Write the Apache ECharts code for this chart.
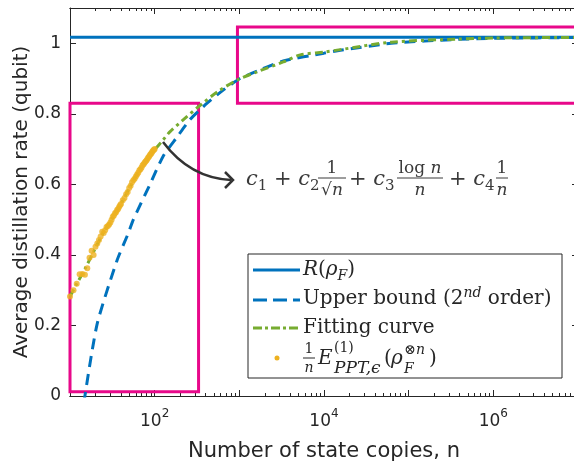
<!DOCTYPE html>
<html>
<head>
<meta charset="utf-8">
<script src="https://cdn.jsdelivr.net/npm/echarts@6/dist/echarts.min.js"></script>
<style>
  html, body { margin: 0; padding: 0; background: #fff; }
  #chart { width: 574px; height: 461px; }
</style>
</head>
<body>
<div id="chart"></div>
<script>
// R(rho_F), constant
const rateN = [10, 1e7];
const rateY = [1.017, 1.017];

// upper bound, 2nd order
const boundN = [13, 15, 21, 36, 48.5, 56, 88, 126, 185, 260, 416, 650, 1020, 1780, 3300, 10000, 15600, 62000, 380000, 1e6, 1e7];
const boundY = [-0.12, 0.0, 0.206, 0.385, 0.46, 0.50, 0.60, 0.68, 0.735, 0.783, 0.83, 0.868, 0.90, 0.925, 0.95, 0.972, 0.98, 1.0, 1.011, 1.014, 1.0163];

// fitting curve
const fitN = [10, 12, 15, 20, 25, 30, 40, 50, 60, 70, 80, 100, 126, 150, 217, 348, 550, 946, 1620, 3300, 5250, 10000, 15600, 62000, 380000, 1e6, 1e7];
const fitY = [0.282, 0.318, 0.36, 0.42, 0.465, 0.495, 0.545, 0.588, 0.622, 0.648, 0.668, 0.698, 0.726, 0.748, 0.783, 0.825, 0.862, 0.896, 0.919, 0.947, 0.967, 0.975, 0.982, 1.003, 1.012, 1.015, 1.0165];

// (1/n) E_PPT values
const dotN = [10, 11, 12, 13, 14, 15, 16, 17, 18, 19, 20, 21, 22, 23, 24, 25, 26, 27, 28, 29, 30, 31, 32, 33, 34, 35, 36, 37, 38, 39, 40,
  42, 44, 46, 48, 50, 52, 54, 56, 58, 60, 62, 64, 66, 68, 70, 72, 74, 76, 78, 80, 82, 84, 86, 88, 90, 92, 94, 96, 98, 100];
const dotY = [0.282, 0.300, 0.318, 0.345, 0.346, 0.344, 0.362, 0.392, 0.412, 0.400, 0.423, 0.432, 0.442, 0.452, 0.466, 0.462, 0.470, 0.479, 0.482, 0.486, 0.492, 0.500, 0.508, 0.512, 0.518, 0.521, 0.527, 0.530, 0.536, 0.541, 0.544,
  0.555, 0.561, 0.572, 0.578, 0.590, 0.596, 0.606, 0.612, 0.616, 0.622, 0.628, 0.633, 0.640, 0.643, 0.648, 0.654, 0.657, 0.661, 0.665, 0.668, 0.672, 0.676, 0.679, 0.683, 0.686, 0.689, 0.693, 0.696, 0.698, 0.700];

// zoom boxes [nFrom, yFrom, nTo, yTo]
const boxes = [[10, 0.012, 330, 0.83], [950, 0.83, 1e7, 1.046]];

const yTicks = [0, 0.2, 0.4, 0.6, 0.8, 1];
const xMajor = [10, 100, 1e3, 1e4, 1e5, 1e6, 1e7];
const xLabels = [100, 1e4, 1e6];
const xMinor = [];
for (let k = 1; k < 7; k++) for (let m = 2; m < 10; m++) xMinor.push(m * Math.pow(10, k));

const pair = (xs, ys) => xs.map((x, i) => [x, ys[i]]);

const INK = '#262626';
const SANS = 'DejaVu Sans';
const SERIF = 'DejaVu Serif';
const BLUE = '#0072BD', GREEN = '#77AC30', GOLD = '#EDB120', PINK = '#E8088A';

function xAxisOf(position, ticks, len, labels) {
  return {
    type: 'log', logBase: 10, min: 10, max: 1e7, position: position,
    axisLine: { show: true, lineStyle: { color: INK, width: 1 } },
    axisTick: { show: true, inside: true, length: len, customValues: ticks, lineStyle: { color: INK } },
    minorTick: { show: false },
    splitLine: { show: false },
    axisLabel: labels ? {
      customValues: xLabels, margin: 12, color: INK,
      formatter: v => '{b|10}{s|' + Math.round(Math.log10(v)) + '}',
      rich: {
        b: { fontSize: 17, fontFamily: SANS, color: INK, lineHeight: 22, verticalAlign: 'bottom' },
        s: { fontSize: 12, fontFamily: SANS, color: INK, lineHeight: 12, verticalAlign: 'top' }
      }
    } : { show: false }
  };
}

function yAxisOf(position, labels) {
  return {
    type: 'value', min: 0, max: 1.1, position: position,
    axisLine: { show: true, lineStyle: { color: INK, width: 1 } },
    axisTick: { show: true, inside: true, length: 6, customValues: yTicks, lineStyle: { color: INK } },
    splitLine: { show: false },
    axisLabel: labels ? { customValues: yTicks, margin: 9, color: INK, fontSize: 17, fontFamily: SANS } : { show: false }
  };
}

// little text helper for the math pieces
function txt(x, y, text, size, opts) {
  opts = opts || {};
  return {
    type: 'text', x: x, y: y, z: 20,
    style: {
      text: text, fontSize: size, fontFamily: SERIF, fontStyle: opts.italic ? 'italic' : 'normal',
      fill: opts.color || INK, align: opts.align || 'left', verticalAlign: 'middle', rich: opts.rich
    }
  };
}
const mathRich = (size, color) => {
  const small = Math.round(size * 0.7);
  return {
    n: { fontSize: size, fontFamily: SERIF, lineHeight: size + 6, verticalAlign: 'middle', fill: color },
    i: { fontSize: size, fontFamily: SERIF, fontStyle: 'italic', lineHeight: size + 6, verticalAlign: 'middle', fill: color },
    s: { fontSize: small, fontFamily: SERIF, fontStyle: 'italic', lineHeight: small, verticalAlign: 'bottom', fill: color },
    sn: { fontSize: small, fontFamily: SERIF, lineHeight: small, verticalAlign: 'bottom', fill: color },
    u: { fontSize: small, fontFamily: SERIF, fontStyle: 'italic', lineHeight: small, verticalAlign: 'top', fill: color }
  };
};
const hline = (x1, x2, y, w, color) => ({ type: 'line', z: 20, shape: { x1: x1, y1: y, x2: x2, y2: y }, style: { stroke: color || INK, lineWidth: w || 1 } });

const FC = '#3a3a3a';
const fr = mathRich(21, FC);
const fq = mathRich(17, FC);
const lr = mathRich(20, INK);

const graphic = [
  // legend box
  { type: 'rect', z: 15, shape: { x: 248, y: 254, width: 314, height: 124 }, style: { fill: '#fff', stroke: INK, lineWidth: 1 } },
  { type: 'line', z: 20, shape: { x1: 253, y1: 270, x2: 300, y2: 270 }, style: { stroke: BLUE, lineWidth: 3 } },
  { type: 'line', z: 20, shape: { x1: 253, y1: 300, x2: 300, y2: 300 }, style: { stroke: BLUE, lineWidth: 3, lineDash: [14, 6] } },
  { type: 'line', z: 20, shape: { x1: 253, y1: 328, x2: 300, y2: 328 }, style: { stroke: GREEN, lineWidth: 3, lineDash: [9, 3, 3, 3] } },
  { type: 'circle', z: 20, shape: { cx: 277, cy: 358, r: 2.5 }, style: { fill: GOLD } },
  txt(303, 270, '{i|R}{n|(}{i|ρ}{s|F}{n|)}', 20, { rich: lr }),
  txt(303, 299, '{n|Upper bound (2}{u|nd}{n| order)}', 20, { rich: lr }),
  txt(303, 328, 'Fitting curve', 20),
  txt(309, 349, '1', 14, { align: 'center' }),
  hline(303, 315, 358, 1),
  txt(309, 368, 'n', 14, { align: 'center', italic: true }),
  txt(318, 359, 'E', 20, { italic: true }),
  txt(334, 348, '(1)', 14),
  txt(334, 369, 'PPT,ϵ', 17, { italic: true }),
  txt(384, 359, '(', 20),
  txt(391, 359, 'ρ', 20, { italic: true }),
  txt(404, 369, 'F', 14, { italic: true }),
  txt(404, 350, '⊗', 14),
  txt(416, 350, 'n', 14, { italic: true }),
  txt(429, 359, ')', 20),

  // annotation formula
  txt(246, 180, '{i|c}{sn|1}{n| + }{i|c}{sn|2}', 21, { rich: fr }),
  txt(332, 169, '1', 17, { align: 'center', color: FC }),
  hline(318, 346, 178, 1, FC),
  txt(332, 191, '{n|√}{i|n}', 17, { align: 'center', rich: fq }),
  txt(349, 180, '{n|+ }{i|c}{sn|3}', 21, { rich: fr }),
  txt(420, 169, '{n|log }{i|n}', 17, { align: 'center', rich: fq }),
  hline(397, 443, 178, 1, FC),
  txt(420, 191, 'n', 17, { align: 'center', color: FC, italic: true }),
  txt(449, 180, '{n|+ }{i|c}{sn|4}', 21, { rich: fr }),
  txt(502, 169, '1', 17, { align: 'center', color: FC }),
  hline(496, 508, 178, 1, FC),
  txt(502, 191, 'n', 17, { align: 'center', color: FC, italic: true }),

  // arrow
  { type: 'bezierCurve', z: 20, shape: { x1: 163, y1: 142, x2: 231, y2: 180, cpx1: 190, cpy1: 178 }, style: { stroke: '#333', lineWidth: 2.5, fill: null } },
  { type: 'polyline', z: 20, shape: { points: [[225, 172], [233, 180], [225, 188]] }, style: { stroke: '#333', lineWidth: 2.5, fill: null } }
];

const chart = echarts.init(document.getElementById('chart'), null, { renderer: 'canvas' });
chart.setOption({
  animation: false,
  backgroundColor: '#fff',
  grid: { left: 70, right: -4, top: 8, bottom: 65, containLabel: false, outerBoundsMode: 'none' },
  xAxis: [
    Object.assign(xAxisOf('bottom', xMajor, 6, true), {
      name: 'Number of state copies, n', nameLocation: 'middle', nameGap: 45,
      nameTextStyle: { fontSize: 21, fontFamily: SANS, color: INK }
    }),
    xAxisOf('bottom', xMinor, 3, false),
    xAxisOf('top', xMajor, 6, false),
    xAxisOf('top', xMinor, 3, false)
  ],
  yAxis: [
    Object.assign(yAxisOf('left', true), {
      name: 'Average distillation rate (qubit)', nameLocation: 'middle', nameGap: 38, nameMoveOverlap: false,
      nameTextStyle: { fontSize: 20, fontFamily: SANS, color: INK }
    }),
    yAxisOf('right', false)
  ],
  series: [
    {
      name: 'R', type: 'line', z: 2, data: pair(rateN, rateY), symbol: 'none',
      lineStyle: { color: BLUE, width: 3 },
      markArea: {
        silent: true,
        itemStyle: { color: 'rgba(0,0,0,0)', borderColor: PINK, borderWidth: 3 },
        data: boxes.map(b => [{ coord: [b[0], b[1]] }, { coord: [b[2], b[3]] }])
      }
    },
    {
      name: 'Upper bound', type: 'line', z: 3, data: pair(boundN, boundY), symbol: 'none', smooth: 0.2,
      lineStyle: { color: BLUE, width: 3, type: [11, 7] }
    },
    {
      name: 'Fitting curve', type: 'line', z: 3, data: pair(fitN, fitY), symbol: 'none', smooth: 0.3,
      lineStyle: { color: GREEN, width: 3, type: [8, 4, 3, 4] }
    },
    {
      name: 'E', type: 'scatter', z: 4, data: pair(dotN, dotY), symbolSize: 6,
      itemStyle: { color: GOLD }
    }
  ],
  graphic: graphic
});
</script>
</body>
</html>
